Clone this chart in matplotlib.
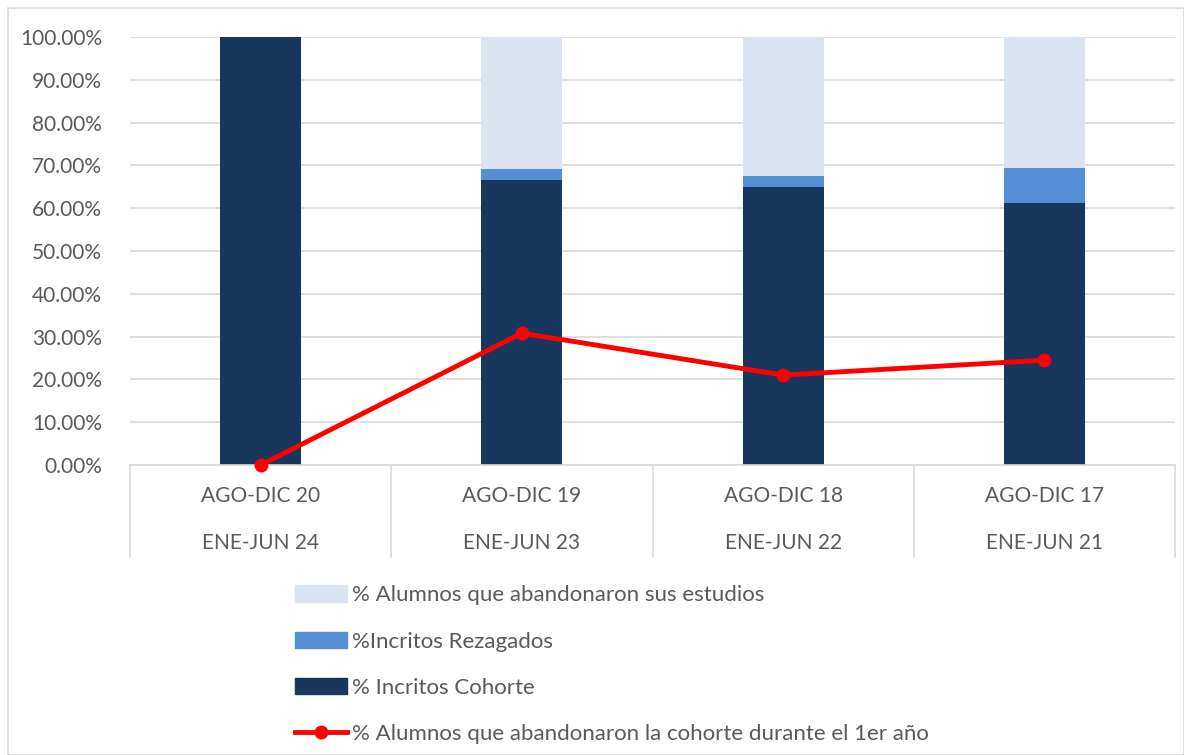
import matplotlib.pyplot as plt
from matplotlib.patches import Rectangle, Patch
from matplotlib.lines import Line2D
from matplotlib.ticker import PercentFormatter

plt.rcParams['font.family'] = ['Lato', 'DejaVu Sans']

periodo_1 = ['AGO-DIC 20', 'AGO-DIC 19', 'AGO-DIC 18', 'AGO-DIC 17']
periodo_2 = ['ENE-JUN 24', 'ENE-JUN 23', 'ENE-JUN 22', 'ENE-JUN 21']
cohorte = [100.0, 66.7, 65.0, 61.1]
rezagados = [0.0, 2.5, 2.45, 8.2]
abandono = [0.0, 30.8, 32.55, 30.7]
abandono_1er = [0.0, 30.8, 21.0, 24.5]

c_light = '#dae3f0'
c_mid = '#558ed5'
c_dark = '#17375e'
c_red = '#ff0000'
gray = '#595959'
fs = 15

fig = plt.figure(figsize=(11.84, 7.55), dpi=100)
fig.patches.append(Rectangle((8 / 1184, 0), 1 - 8 / 1184, 1 - 8 / 755, transform=fig.transFigure,
                             fill=False, edgecolor='#d9d9d9', lw=1.2))
ax = fig.add_axes([130 / 1184, 1 - 465 / 755, (1175 - 130) / 1184, (465 - 37) / 755])

x = range(len(cohorte))
bottom2 = [a + b for a, b in zip(cohorte, rezagados)]
w = 0.31
ax.bar(x, cohorte, w, color=c_dark, zorder=2)
ax.bar(x, rezagados, w, bottom=cohorte, color=c_mid, zorder=2)
ax.bar(x, abandono, w, bottom=bottom2, color=c_light, zorder=2)
ax.plot(x, abandono_1er, color=c_red, lw=3.5, marker='o', ms=9, zorder=3, clip_on=False)

ax.set_xlim(-0.5, 3.5)
ax.set_ylim(0, 100)
ax.set_yticks(range(0, 101, 10))
ax.yaxis.set_major_formatter(PercentFormatter(decimals=2))
ax.tick_params(axis='y', length=0, labelsize=fs, colors=gray, pad=20)
ax.set_xticks([])
ax.grid(axis='y', color='#d9d9d9', lw=1.2, zorder=0)
for s in ['top', 'right', 'left']:
    ax.spines[s].set_visible(False)
ax.spines['bottom'].set_color('#d9d9d9')
ax.spines['bottom'].set_linewidth(1.2)

trans = ax.get_xaxis_transform()
h = 465 - 37
for i in x:
    ax.text(i, -(496 - 465) / h, periodo_1[i], transform=trans, ha='center', va='center',
            fontsize=fs, color=gray)
    ax.text(i, -(543 - 465) / h, periodo_2[i], transform=trans, ha='center', va='center',
            fontsize=fs, color=gray)
for b in [-0.5, 0.5, 1.5, 2.5, 3.5]:
    ax.plot([b, b], [0, -(557 - 465) / h], transform=trans, color='#d9d9d9', lw=1.2, clip_on=False)

handles = [Patch(color=c_light), Patch(color=c_mid), Patch(color=c_dark),
           Line2D([0], [0], color=c_red, lw=3.5, marker='o', ms=9)]
labels = ['% Alumnos que abandonaron sus estudios', '%Incritos Rezagados', '% Incritos Cohorte',
          '% Alumnos que abandonaron la cohorte durante el 1er año']
leg = fig.legend(handles, labels, loc='upper left', bbox_to_anchor=(284 / 1184, 1 - 574 / 755),
                 frameon=False, fontsize=16, labelcolor=gray, handlelength=2.35, handleheight=0.75,
                 handletextpad=0.22, labelspacing=1.19, borderpad=0)

fig.savefig('out.png', dpi=100)
